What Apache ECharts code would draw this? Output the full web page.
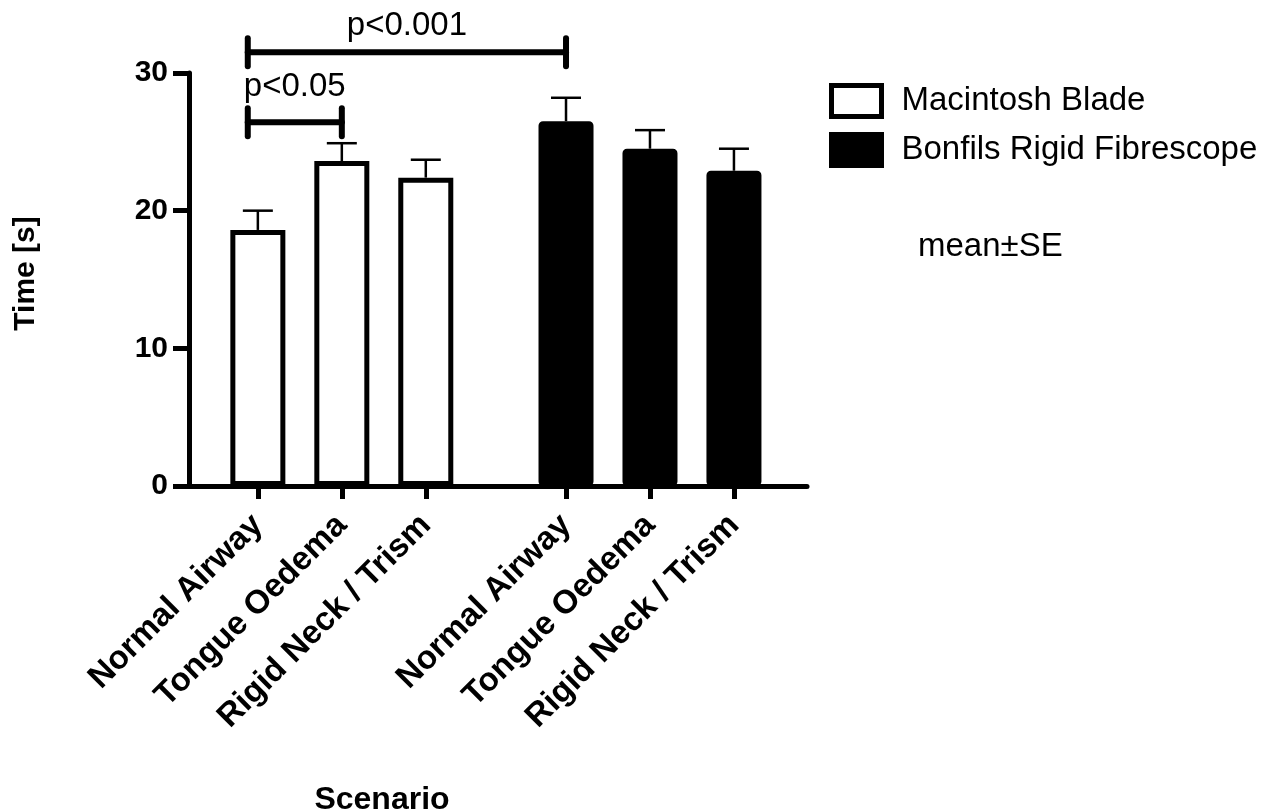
<!DOCTYPE html>
<html>
<head>
<meta charset="utf-8">
<script src="https://cdn.jsdelivr.net/npm/echarts@6/dist/echarts.min.js"></script>
<style>
html,body{margin:0;padding:0;background:#fff;}
#chart{width:1268px;height:812px;}
</style>
</head>
<body>
<div id="chart"></div>
<script>
// ---- data ----
const categories = ['Normal Airway', 'Tongue Oedema', 'Rigid Neck / Trism'];
const seriesNames = ['Macintosh Blade', 'Bonfils Rigid Fibrescope'];
const macintoshMean = [18.6, 23.6, 22.4];
const macintoshSE = [1.4, 1.3, 1.3];
const bonfilsMean = [26.5, 24.5, 22.9];
const bonfilsSE = [1.7, 1.35, 1.6];
const comparisonLabels = ['p<0.05', 'p<0.001'];
const noteText = 'mean\u00b1SE';
const xAxisTitle = 'Scenario';
const yAxisTitle = 'Time [s]';

// ---- layout (positions on the x value axis, annotation levels) ----
const groupPositions = [[0, 1, 2], [3.67, 4.67, 5.67]];
const bracketSpans = [[-0.12, 1, 26.43, 28.98], [-0.12, 3.67, 31.5, 33.4]];

const FONT = "'Liberation Sans', Arial, Helvetica, sans-serif";
const allPos = groupPositions[0].concat(groupPositions[1]);
const allLabels = categories.concat(categories);

function barData(g, means) {
  return means.map((m, i) => [groupPositions[g][i], m]);
}
function errData(g, means, se) {
  return means.map((m, i) => [groupPositions[g][i], m, m + se[i]]);
}

const chart = echarts.init(document.getElementById('chart'));

const errorRender = function (params, api) {
  const x = api.value(0);
  const p0 = api.coord([x, api.value(1)]);
  const p1 = api.coord([x, api.value(2)]);
  const half = 15;
  const st = { stroke: '#000', lineWidth: 2.5, fill: null };
  return {
    type: 'group',
    children: [
      { type: 'line', shape: { x1: p0[0], y1: p0[1], x2: p1[0], y2: p1[1] }, style: st },
      { type: 'line', shape: { x1: p1[0] - half, y1: p1[1], x2: p1[0] + half, y2: p1[1] }, style: st }
    ]
  };
};

const bracketRender = function (params, api) {
  const x1 = api.value(0), x2 = api.value(1), lvl = api.value(2), tl = api.value(3);
  const a = api.coord([x1, lvl]);
  const b = api.coord([x2, lvl]);
  const t = api.coord([(x1 + x2) / 2, tl]);
  const h = 14;
  const st = { stroke: '#000', lineWidth: 6, lineCap: 'round', fill: null };
  return {
    type: 'group',
    children: [
      { type: 'line', shape: { x1: a[0], y1: a[1], x2: b[0], y2: b[1] }, style: st },
      { type: 'line', shape: { x1: a[0], y1: a[1] - h, x2: a[0], y2: a[1] + h }, style: st },
      { type: 'line', shape: { x1: b[0], y1: b[1] - h, x2: b[0], y2: b[1] + h }, style: st },
      { type: 'text', x: t[0], y: t[1], style: {
          text: comparisonLabels[params.dataIndex], fill: '#000',
          font: '33px ' + FONT, textAlign: 'center', textVerticalAlign: 'middle' } }
    ]
  };
};

const option = {
  animation: false,
  backgroundColor: '#fff',
  textStyle: { fontFamily: FONT },
  grid: { left: 189, right: 1268 - 807, top: 73, bottom: 812 - 486, containLabel: false, outerBoundsMode: 'none' },
  legend: {
    orient: 'vertical',
    left: 829,
    top: 83,
    padding: 0,
    itemWidth: 50,
    itemHeight: 31,
    itemGap: 13,
    icon: 'rect',
    selectedMode: false,
    textStyle: { fontSize: 33, color: '#000', fontFamily: FONT, padding: [0, 0, 0, 15] },
    data: [
      { name: seriesNames[0], itemStyle: { color: '#fff', borderColor: '#000', borderWidth: 5 } },
      { name: seriesNames[1], itemStyle: { color: '#000', borderColor: '#000', borderWidth: 5 } }
    ]
  },
  graphic: [
    { type: 'text', left: 918, top: 230, style: { text: noteText, font: '33px ' + FONT, fill: '#000' } }
  ],
  xAxis: {
    type: 'value',
    min: -0.82,
    max: 6.54,
    splitLine: { show: false },
    axisLine: { show: true, onZero: false, lineStyle: { color: '#000', width: 5 } },
    axisTick: { show: true, length: 13, customValues: allPos, lineStyle: { color: '#000', width: 5 } },
    axisLabel: {
      customValues: allPos,
      rotate: 45,
      margin: 34,
      fontSize: 33,
      fontWeight: 'bold',
      color: '#000',
      fontFamily: FONT,
      formatter: function (v) {
        for (let i = 0; i < allPos.length; i++) {
          if (Math.abs(allPos[i] - v) < 0.01) return allLabels[i];
        }
        return '';
      }
    },
    name: xAxisTitle,
    nameLocation: 'middle',
    nameGap: 298,
    nameTextStyle: { fontSize: 32, fontWeight: 'bold', color: '#000', fontFamily: FONT, padding: [0, 232, 0, 0] }
  },
  yAxis: {
    type: 'value',
    min: 0,
    max: 30,
    interval: 10,
    splitLine: { show: false },
    axisLine: { show: true, onZero: false, lineStyle: { color: '#000', width: 5 } },
    axisTick: { show: true, length: 16, lineStyle: { color: '#000', width: 5 } },
    axisLabel: { fontSize: 30, fontWeight: 'bold', color: '#000', margin: 21, fontFamily: FONT },
    name: yAxisTitle,
    nameLocation: 'middle',
    nameGap: 148,
    nameTextStyle: { fontSize: 30, fontWeight: 'bold', color: '#000', fontFamily: FONT, padding: [0, 0, 0, 12] }
  },
  series: [
    {
      name: seriesNames[0], type: 'bar', barWidth: 55, barGap: '-100%', z: 3,
      itemStyle: { color: '#fff', borderColor: '#000', borderWidth: 5 },
      data: barData(0, macintoshMean)
    },
    {
      name: seriesNames[1], type: 'bar', barWidth: 55, barGap: '-100%', z: 3,
      itemStyle: { color: '#000', borderColor: '#000', borderWidth: 5, borderRadius: 2 },
      data: barData(1, bonfilsMean)
    },
    {
      name: 'err0', type: 'custom', z: 4, renderItem: errorRender,
      encode: { x: 0, y: [1, 2] }, data: errData(0, macintoshMean, macintoshSE)
    },
    {
      name: 'err1', type: 'custom', z: 4, renderItem: errorRender,
      encode: { x: 0, y: [1, 2] }, data: errData(1, bonfilsMean, bonfilsSE)
    },
    {
      name: 'brackets', type: 'custom', z: 5, clip: false, renderItem: bracketRender,
      encode: { x: [0, 1], y: [2, 3] }, data: bracketSpans, silent: true
    }
  ]
};
chart.setOption(option);
</script>
</body>
</html>
